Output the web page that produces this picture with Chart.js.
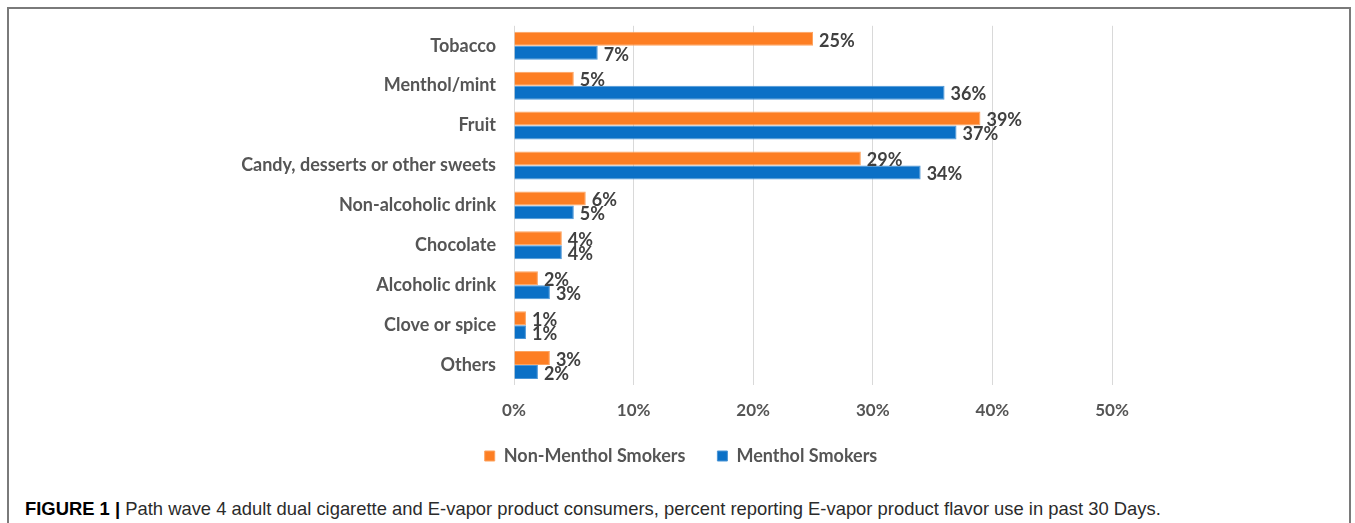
<!DOCTYPE html>
<html>
<head>
<meta charset="utf-8">
<script src="https://cdn.jsdelivr.net/npm/chart.js@4"></script>
<style>
  html, body { margin: 0; padding: 0; background: #fff; }
  body { width: 1355px; height: 523px; overflow: hidden; position: relative; }
  #frame {
    position: absolute; left: 7px; top: 7px; width: 1344px; height: 530px;
    border: 2px solid #7a7a7a; border-bottom: none; box-sizing: border-box;
  }
  #wrap { position: absolute; left: 1px; top: -4px; width: 1342px; height: 485px; }
  #caption {
    position: absolute; left: 16px; top: 489px;
    font-family: "Liberation Sans", Arial, sans-serif; font-size: 18.4px; color: #2b2b2b;
    white-space: nowrap;
  }
  #caption b { color: #000; }
</style>
</head>
<body>
<div id="frame">
  <div id="wrap"><canvas id="myChart"></canvas></div>
  <div id="caption"><b>FIGURE 1 |</b> Path wave 4 adult dual cigarette and E-vapor product consumers, percent reporting E-vapor product flavor use in past 30 Days.</div>
</div>
<script>
const flavors = ['Tobacco', 'Menthol/mint', 'Fruit', 'Candy, desserts or other sweets', 'Non-alcoholic drink', 'Chocolate', 'Alcoholic drink', 'Clove or spice', 'Others']
const nonMenthol = [25, 5, 39, 29, 6, 4, 2, 1, 3]
const menthol = [7, 36, 37, 34, 5, 4, 3, 1, 2]
const xTicks = [0, 10, 20, 30, 40, 50]

const orange = '#fd7e23'
const blue = '#0b70c6'
const textGray = '#555555'

// draws the % labels next to each bar end
const barLabels = {
    id: 'barLabels',
    afterDatasetsDraw(chart) {
        const ctx = chart.ctx
        ctx.save()
        ctx.font = 'bold 18px Lato'
        ctx.fillStyle = '#404040'
        ctx.textBaseline = 'middle'
        ctx.textAlign = 'left'
        chart.data.datasets.forEach((ds, i) => {
            chart.getDatasetMeta(i).data.forEach((bar, j) => {
                ctx.fillText(ds.data[j] + '%', bar.x + 6, bar.y + 2)
            })
        })
        ctx.restore()
    }
}

// legend centred on the whole canvas and pulled up a bit under the axis
const placeLegend = {
    id: 'placeLegend',
    beforeDraw(chart) {
        const lg = chart.legend
        lg.left = 0
        lg.right = chart.width
        lg.width = chart.width
        lg.top = lg.top - 12
        lg.bottom = lg.top + lg.height
    }
}

new Chart(document.getElementById('myChart'), {
    type: 'bar',
    data: {
        labels: flavors,
        datasets: [{
            label: 'Non-Menthol Smokers',
            data: nonMenthol,
            backgroundColor: orange,
            borderColor: '#fda35f',
            borderWidth: 1,
            categoryPercentage: 0.7,
            barPercentage: 1.0
        }, {
            label: 'Menthol Smokers',
            data: menthol,
            backgroundColor: blue,
            borderColor: '#4b95d6',
            borderWidth: 1,
            categoryPercentage: 0.7,
            barPercentage: 1.0
        }]
    },
    options: {
        indexAxis: 'y',
        responsive: true,
        maintainAspectRatio: false,
        animation: false,
        layout: { padding: { top: 6, right: 240, bottom: 3, left: 0 } },
        scales: {
            x: {
                min: 0,
                max: 50,
                afterBuildTicks: scale => { scale.ticks = xTicks.map(v => ({ value: v })) },
                afterFit: scale => { scale.height = 42 },
                ticks: {
                    color: textGray,
                    font: { family: 'Lato', size: 17, weight: 'bold' },
                    padding: 15,
                    callback: v => v + '%'
                },
                grid: { color: '#d9d9d9', drawTicks: false },
                border: { display: false }
            },
            y: {
                afterFit: scale => { scale.width = 504 },
                ticks: {
                    color: textGray,
                    font: { family: 'Lato', size: 18, weight: 'bold' },
                    padding: 10
                },
                grid: { display: false },
                border: { display: false }
            }
        },
        plugins: {
            legend: {
                position: 'bottom',
                labels: {
                    color: textGray,
                    font: { family: 'Lato', size: 18, weight: 'bold' },
                    boxWidth: 10,
                    boxHeight: 10,
                    padding: 32
                }
            },
            tooltip: { enabled: false }
        }
    },
    plugins: [barLabels, placeLegend]
})
</script>
</body>
</html>
